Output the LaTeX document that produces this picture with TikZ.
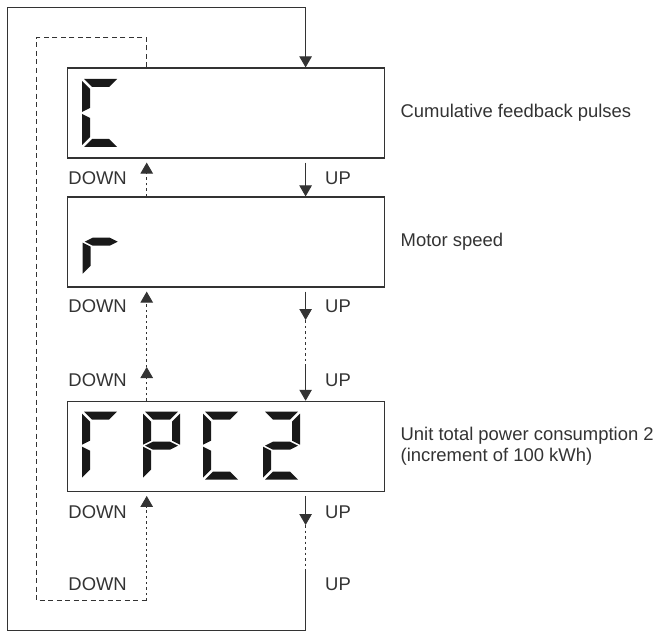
\documentclass[tikz,border=0pt]{standalone}
\usepackage{fontspec}
\setmainfont{Liberation Sans}
\usetikzlibrary{arrows.meta}
\colorlet{linegray}{black!80}
\colorlet{segblack}{black!90}

% segments of one display digit, top left corner at (0,0)
\newcommand{\sega}{\fill[segblack] (2,0) -- (35,0) -- (27,8) -- (10,8) -- cycle;}
\newcommand{\segb}{\fill[segblack] (37,2) -- (37,33) -- (29,29) -- (29,10) -- cycle;}
\newcommand{\segc}{\fill[segblack] (37,35) -- (37,66) -- (29,58) -- (29,39) -- cycle;}
\newcommand{\segd}{\fill[segblack] (2,68) -- (35,68) -- (27,60) -- (10,60) -- cycle;}
\newcommand{\sege}{\fill[segblack] (0,35) -- (8,39) -- (8,58) -- (0,66) -- cycle;}
\newcommand{\segf}{\fill[segblack] (0,2) -- (8,10) -- (8,29) -- (0,33) -- cycle;}
\newcommand{\segg}{\fill[segblack] (2,34) -- (10,30) -- (27,30) -- (35,34) -- (27,38) -- (10,38) -- cycle;}
\newcommand{\sevenseg}[3]{%
    \begin{scope}[shift={(#1,#2)}]
        \foreach \s in {#3}{\csname seg\s\endcsname}
    \end{scope}}

\begin{document}
\begin{tikzpicture}[x=1bp, y=-1bp, font=\fontsize{18.5}{20.5}\selectfont,
        dispbox/.style={draw=linegray, line width=1.2bp, minimum width=317bp, minimum height=90bp, inner sep=0pt},
        wire/.style={draw=linegray, line width=0.9bp},
        headed/.style={-{Triangle[width=12.5bp,length=11bp]}},
        gapline/.style={dash pattern=on 2.5bp off 3bp},
        backloop/.style={dash pattern=on 5bp off 3.5bp},
        txt/.style={text=linegray, inner sep=0pt}]
    \useasboundingbox (0,0) rectangle (659,631);

    \node[dispbox] (pulses) at (226.35,113) {};
    \node[dispbox] (speed) at (226.35,242) {};
    \node[dispbox] (power) at (226.35,446.35) {};

    \sevenseg{82}{79}{a,f,e,d}
    \sevenseg{82.7}{207.7}{e,g}
    \sevenseg{82}{411.7}{a,f,e}
    \sevenseg{143}{411.7}{a,b,f,g,e}
    \sevenseg{203}{411.7}{a,f,e,d}
    \sevenseg{263}{411.7}{a,b,g,e,d}

    \coordinate (upx) at (305.6,0);
    \coordinate (downx) at (146.7,0);
    \coordinate (downmid) at (146.7,367);
    \coordinate (dashend) at (146.7,600.7);
    \coordinate (upskip) at (305.6,320);
    \coordinate (upresume) at (305.6,367);
    \coordinate (upskiplow) at (305.6,525);
    \coordinate (loopin) at (305.6,571);

    % outer return to the first display
    \draw[wire, headed] (loopin) -- (305.6,630) -| (7.5,7.5) -| (pulses.north -| upx);
    \draw[wire, backloop] (pulses.north -| downx) |- (36.7,37.7) |- (dashend);

    % UP side
    \draw[wire, headed, shorten <=4bp] (pulses.south -| upx) -- (speed.north -| upx);
    \draw[wire, headed, shorten <=4bp] (speed.south -| upx) -- (upskip);
    \draw[wire, gapline] (upskip) -- (upresume);
    \draw[wire, headed] (upresume) -- (power.north -| upx);
    \draw[wire, headed, shorten <=4bp] (power.south -| upx) -- (upskiplow);
    \draw[wire, gapline] (upskiplow) -- (loopin);

    % DOWN side
    \draw[wire, gapline, headed, shorten >=4bp] (speed.north -| downx) -- (pulses.south -| downx);
    \draw[wire, gapline, headed] (power.north -| downx) -- (downmid);
    \draw[wire, gapline, headed, shorten >=4bp] (downmid) -- (speed.south -| downx);
    \draw[wire, gapline, headed, shorten >=4bp] (dashend) -- (power.south -| downx);

    \foreach \y [count=\i] in {178,306,380,512,584}{
        \node[txt, anchor=east] (down\i) at (127,\y) {DOWN};
        \node[txt, anchor=west] (up\i) at (325,\y) {UP};
    }

    \node[txt, anchor=west] (pulsestxt) at ([xshift=15bp]pulses.east) {Cumulative feedback pulses};
    \node[txt, anchor=west] (speedtxt) at ([xshift=15bp]speed.east) {Motor speed};
    \node[txt, anchor=west, align=left] (powertxt) at ([xshift=15bp]power.east) {Unit total power consumption 2\\(increment of 100 kWh)};
\end{tikzpicture}
\end{document}
